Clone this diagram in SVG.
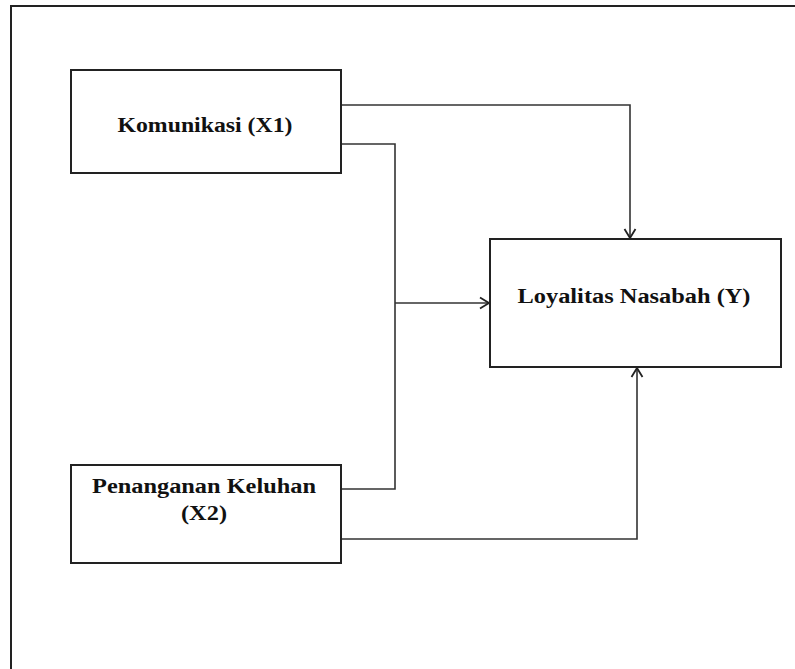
<svg xmlns="http://www.w3.org/2000/svg" width="795" height="669" viewBox="0 0 795 669">
<style>
.box{fill:#fff;stroke:#222;stroke-width:2}
.lbl{font-family:"Liberation Serif","Times New Roman",serif;font-weight:bold;font-size:20px;fill:#111;text-anchor:middle}
.con{fill:none;stroke:#333;stroke-width:1.6}
</style>
<defs>
<marker id="arr" markerUnits="userSpaceOnUse" markerWidth="14" markerHeight="14" viewBox="0 0 14 14" refX="12" refY="7" orient="auto">
<path d="M3,1.5 L12,7 L3,12.5" fill="none" stroke="#222" stroke-width="1.8"/>
</marker>
</defs>
<rect width="795" height="669" fill="#fff"/>
<path d="M11,669 V6 H795" fill="none" stroke="#222" stroke-width="2"/>
<g id="connectors">
<path class="con" d="M341,105 H630 V238" marker-end="url(#arr)"/>
<path class="con" d="M341,144 H395 V489 H341"/>
<path class="con" d="M395,303 H489" marker-end="url(#arr)"/>
<path class="con" d="M341,539 H637 V368" marker-end="url(#arr)"/>
</g>
<g id="x1">
<rect class="box" x="71" y="70" width="270" height="103"/>
<text class="lbl" x="205" y="132" textLength="175" lengthAdjust="spacingAndGlyphs">Komunikasi (X1)</text>
</g>
<g id="y">
<rect class="box" x="490" y="239" width="291" height="128"/>
<text class="lbl" x="634" y="303" textLength="233" lengthAdjust="spacingAndGlyphs">Loyalitas Nasabah (Y)</text>
</g>
<g id="x2">
<rect class="box" x="71" y="465" width="270" height="98"/>
<text class="lbl" x="204" y="493" textLength="224" lengthAdjust="spacingAndGlyphs">Penanganan Keluhan</text>
<text class="lbl" x="204" y="520" textLength="46" lengthAdjust="spacingAndGlyphs">(X2)</text>
</g>
</svg>
